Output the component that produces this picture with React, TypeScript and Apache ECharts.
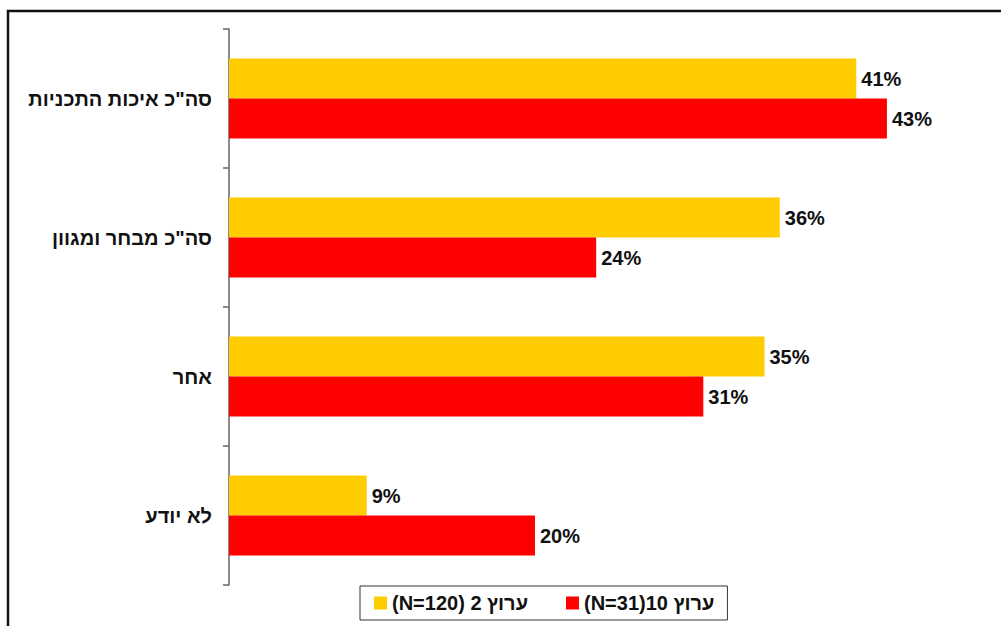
import React, { useEffect, useRef } from "react";
import * as echarts from "echarts";

const categories = ["סה\"כ איכות התכניות", "סה\"כ מבחר ומגוון", "אחר", "לא יודע"];
const seriesNames = ["ערוץ 2 (N=120)", "ערוץ 10(N=31)"];
const channel2Values = [41, 36, 35, 9];
const channel10Values = [43, 24, 31, 20];
const seriesColors = ["#FFCC00", "#FF0000"];

const FONT = "Arial, 'Liberation Sans', sans-serif";

export default function App() {
  const ref = useRef<HTMLDivElement>(null);
  useEffect(() => {
    if (!ref.current) return;
    const chart = echarts.init(ref.current, undefined, { renderer: "svg" });
    const labelCfg = {
      show: true,
      position: "right",
      distance: 5,
      formatter: "{c}%",
      fontFamily: FONT,
      fontWeight: "bold",
      fontSize: 20,
      color: "#111",
    };
    chart.setOption({
      animation: false,
      backgroundColor: "#fff",
      graphic: [
        {
          type: "rect",
          shape: { x: 8, y: 11, width: 1100, height: 700 },
          style: { fill: "none", stroke: "#111", lineWidth: 2.5 },
          silent: true,
        },
      ],
      grid: { left: 229, top: 29, width: 765, bottom: 41 },
      xAxis: {
        type: "value",
        min: 0,
        max: 50,
        show: false,
      },
      yAxis: {
        type: "category",
        data: categories,
        inverse: true,
        axisLine: { show: true, lineStyle: { color: "#666", width: 1.5 } },
        axisTick: { show: true, length: 6, lineStyle: { color: "#666", width: 1.5 } },
        axisLabel: {
          margin: 17,
          fontFamily: FONT,
          fontWeight: "bold",
          fontSize: 20,
          color: "#111",
        },
        splitLine: { show: false },
      },
      legend: {
        data: seriesNames,
        left: 360,
        top: 586,
        orient: "horizontal",
        icon: "rect",
        itemWidth: 13,
        itemHeight: 13,
        itemGap: 38,
        padding: [7, 13, 7, 14],
        borderColor: "#333",
        borderWidth: 1,
        formatter: (name: string) => "\u202B" + name + "\u202C",
        textStyle: {
          fontFamily: FONT,
          fontWeight: "bold",
          fontSize: 20,
          color: "#111",
        },
      },
      series: [
        {
          name: seriesNames[0],
          type: "bar",
          data: channel2Values,
          barWidth: 40,
          barGap: "0%",
          itemStyle: { color: seriesColors[0] },
          label: labelCfg,
        },
        {
          name: seriesNames[1],
          type: "bar",
          data: channel10Values,
          barWidth: 40,
          barGap: "0%",
          itemStyle: { color: seriesColors[1] },
          label: labelCfg,
        },
      ],
    });
    return () => chart.dispose();
  }, []);
  return (
    <div
      ref={ref}
      style={{ position: "fixed", left: 0, top: 0, width: 1001, height: 626 }}
    />
  );
}
